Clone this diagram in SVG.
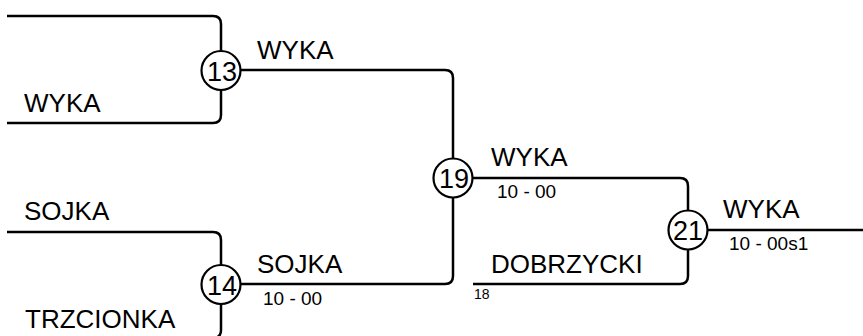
<svg xmlns="http://www.w3.org/2000/svg" width="863" height="336" viewBox="0 0 863 336">
<style>
.ln{fill:none;stroke:#000;stroke-width:2.5}
.c{fill:#fff;stroke:#000;stroke-width:2.2}
.t{font-family:"Liberation Sans",Arial,sans-serif;font-size:26px;fill:#000}
.n{font-family:"Liberation Sans",Arial,sans-serif;font-size:27px;fill:#000;text-anchor:middle}
.s{font-family:"Liberation Sans",Arial,sans-serif;font-size:19px;fill:#000}
.x{font-family:"Liberation Sans",Arial,sans-serif;font-size:14px;fill:#000}
</style>
<rect width="863" height="336" fill="#fff"/>
<g id="connectors">
<path class="ln" d="M7,16 H213 Q221,16 221,24 V51"/>
<path class="ln" d="M7,123 H213 Q221,123 221,115 V90"/>
<path class="ln" d="M240,70 H445 Q453,70 453,78 V159"/>
<path class="ln" d="M7,232 H213 Q221,232 221,240 V265"/>
<path class="ln" d="M221,304 V330 Q221,338 213,338 H7"/>
<path class="ln" d="M240,284 H445 Q453,284 453,276 V197"/>
<path class="ln" d="M472,178 H680 Q688,178 688,186 V211"/>
<path class="ln" d="M473,284 H680 Q688,284 688,276 V249"/>
<path class="ln" d="M707,230 H863"/>
</g>
<g id="team-wyka-1"><text class="t" x="24" y="112">WYKA</text></g>
<g id="team-sojka-1"><text class="t" x="24" y="220">SOJKA</text></g>
<g id="team-trzcionka"><text class="t" x="25" y="328">TRZCIONKA</text></g>
<g id="match-13">
<circle class="c" cx="221" cy="70.5" r="19.5"/>
<text class="n" x="222" y="80.5">13</text>
<text class="t" x="257" y="59">WYKA</text>
</g>
<g id="match-14">
<circle class="c" cx="221" cy="284.5" r="19.5"/>
<text class="n" x="222" y="294.5">14</text>
<text class="t" x="257" y="273">SOJKA</text>
<text class="s" x="263" y="305">10 - 00</text>
</g>
<g id="match-19">
<circle class="c" cx="453" cy="178" r="19.5"/>
<text class="n" x="454" y="188">19</text>
<text class="t" x="491" y="166">WYKA</text>
<text class="s" x="497" y="198">10 - 00</text>
</g>
<g id="team-dobrzycki">
<text class="t" x="491" y="273">DOBRZYCKI</text>
<text class="x" x="474" y="299">18</text>
</g>
<g id="match-21">
<circle class="c" cx="688" cy="230" r="19.5"/>
<text class="n" x="688" y="240">21</text>
<text class="t" x="723" y="218">WYKA</text>
<text class="s" x="729" y="250">10 - 00s1</text>
</g>
</svg>
